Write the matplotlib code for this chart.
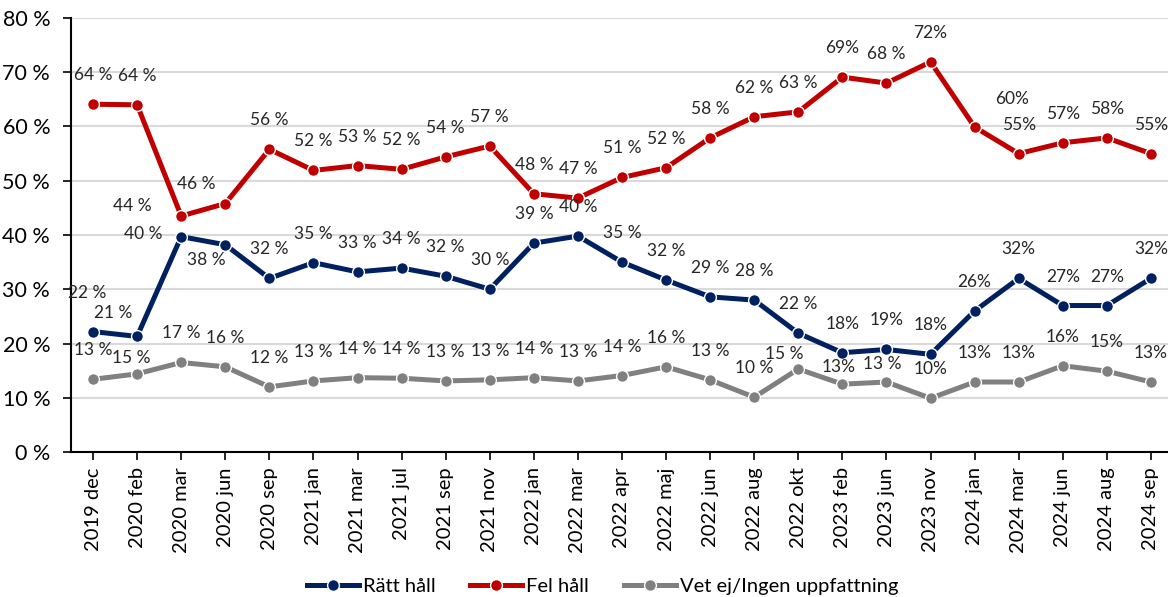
import matplotlib
matplotlib.use('Agg')
import matplotlib.pyplot as plt
from matplotlib.ticker import FuncFormatter

plt.rcParams['font.family'] = ['Lato', 'DejaVu Sans']

categories = ['2019 dec', '2020 feb', '2020 mar', '2020 jun', '2020 sep', '2021 jan',
              '2021 mar', '2021 jul', '2021 sep', '2021 nov', '2022 jan', '2022 mar',
              '2022 apr', '2022 maj', '2022 jun', '2022 aug', '2022 okt', '2023 feb',
              '2023 jun', '2023 nov', '2024 jan', '2024 mar', '2024 jun', '2024 aug',
              '2024 sep']

ratt = [22.2, 21.3, 39.7, 38.2, 32.0, 34.9, 33.2, 33.9, 32.4, 30.0, 38.5, 39.8,
        35.0, 31.7, 28.6, 28.0, 21.9, 18.3, 18.9, 18.0, 26.0, 32.0, 27.0, 27.0, 32.0]
fel = [64.1, 64.0, 43.5, 45.8, 55.8, 51.9, 52.8, 52.1, 54.4, 56.4, 47.6, 46.8,
       50.6, 52.4, 57.9, 61.8, 62.7, 69.1, 68.0, 71.9, 59.9, 55.0, 57.0, 57.9, 55.0]
vetej = [13.4, 14.4, 16.5, 15.7, 12.0, 13.1, 13.7, 13.6, 13.1, 13.3, 13.7, 13.1,
         14.1, 15.7, 13.3, 10.1, 15.3, 12.5, 12.9, 9.9, 12.9, 12.9, 15.9, 14.9, 12.9]

ratt_labels = ['22 %', '21 %', '40 %', '38 %', '32 %', '35 %', '33 %', '34 %', '32 %',
               '30 %', '39 %', '40 %', '35 %', '32 %', '29 %', '28 %', '22 %', '18%',
               '19%', '18%', '26%', '32%', '27%', '27%', '32%']
fel_labels = ['64 %', '64 %', '44 %', '46 %', '56 %', '52 %', '53 %', '52 %', '54 %',
              '57 %', '48 %', '47 %', '51 %', '52 %', '58 %', '62 %', '63 %', '69%',
              '68 %', '72%', '60%', '55%', '57%', '58%', '55%']
vetej_labels = ['13 %', '15 %', '17 %', '16 %', '12 %', '13 %', '14 %', '14 %', '13 %',
                '13 %', '14 %', '13 %', '14 %', '16 %', '13 %', '10 %', '15 %', '13%',
                '13 %', '10%', '13%', '13%', '16%', '15%', '13%']

# label offsets in pixels (dx, dy downwards), default is straight above the point
default_off = (0, -29)
ratt_off = {0: (-6, -39), 1: (-24, -23), 2: (-38, -3), 3: (-19, 15)}
fel_off = {2: (-49, -10), 3: (-29, -20), 20: (37, -28)}
vetej_off = {1: (-6, -16), 16: (-14, -15), 17: (-4, -17), 18: (-4, -18)}

series = [
    ('Rätt håll', ratt, ratt_labels, ratt_off, '#002060'),
    ('Fel håll', fel, fel_labels, fel_off, '#C00000'),
    ('Vet ej/Ingen uppfattning', vetej, vetej_labels, vetej_off, '#808080'),
]

dpi = 100
fig = plt.figure(figsize=(1168 / dpi, 597 / dpi), dpi=dpi)
ax = fig.add_axes([71 / 1168, 1 - 452 / 597, 1 - 71 / 1168, (452 - 18) / 597])

x = list(range(len(categories)))
for name, vals, labels, offs, color in series:
    ax.plot(x, vals, color=color, lw=3.6, marker='o', markersize=8.5,
            markerfacecolor=color, markeredgecolor='white', markeredgewidth=1.0,
            label=name, zorder=3, clip_on=False)
    for i, (v, lab) in enumerate(zip(vals, labels)):
        dx, dy = offs.get(i, default_off)
        ax.annotate(lab, (i, v), xytext=(dx, -dy), textcoords='offset pixels',
                    ha='center', va='center', fontsize=12.5, color='#262626', zorder=4)

ax.set_xlim(-0.5, -0.5 + (1168 - 71) / 44.08)
ax.set_ylim(0, 80)
ax.set_yticks(range(0, 81, 10))
ax.yaxis.set_major_formatter(FuncFormatter(lambda v, p: f'{int(v)} %'))
ax.set_xticks(x)
ax.set_xticklabels(categories, rotation=90, fontsize=14.5)
ax.tick_params(axis='y', labelsize=15.5, length=6, width=1.2, direction='out',
               colors='black', pad=9)
ax.tick_params(axis='x', length=6, width=1.2, direction='out', pad=5)
for s in ['top', 'right']:
    ax.spines[s].set_visible(False)
for s in ['left', 'bottom']:
    ax.spines[s].set_linewidth(1.5)
    ax.spines[s].set_color('black')
ax.grid(axis='y', color='#D9D9D9', lw=1.5)
ax.set_axisbelow(True)

ax.legend(loc='center', bbox_to_anchor=(0.5 - 71 / 1168 / 2 + 0.015, (452 - 586) / 434), ncol=3,
          frameon=False, fontsize=14.5, handlelength=2.6, columnspacing=1.7,
          handletextpad=0.2, borderaxespad=0)

fig.savefig('out.png', dpi=dpi)
